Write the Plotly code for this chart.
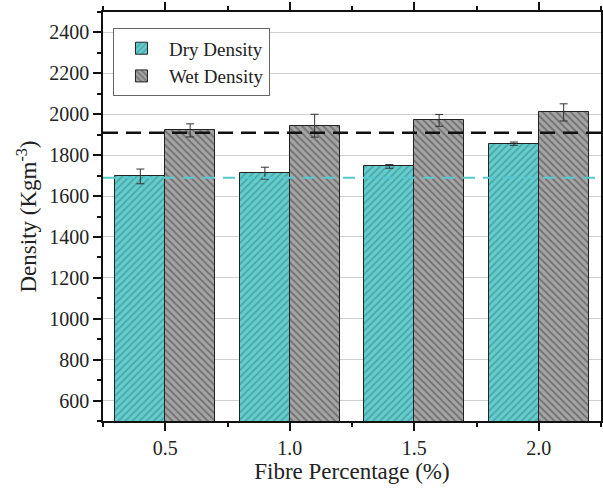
import plotly.graph_objects as go

fibre = [0.5, 1.0, 1.5, 2.0]
tick_labels = ["0.5", "1.0", "1.5", "2.0"]
dry_density = [1696, 1712, 1745, 1856]
dry_err = [36, 29, 9, 8]
wet_density = [1921, 1944, 1970, 2009]
wet_err = [32, 56, 29, 42]
wet_ref = 1910
dry_ref = 1690

FONT = "Liberation Serif"

fig = go.Figure()
fig.add_trace(go.Bar(
    x=fibre, y=dry_density, name="Dry Density",
    offset=-0.2, width=0.2,
    marker=dict(color="#66cccc", line=dict(color="#222222", width=1),
                pattern=dict(shape="/", fgcolor="#2a8585", size=5, solidity=0.35)),
    error_y=dict(type="data", array=dry_err, color="#333333", thickness=1, width=4),
))
fig.add_trace(go.Bar(
    x=fibre, y=wet_density, name="Wet Density",
    offset=0, width=0.2,
    marker=dict(color="#a5a5a5", line=dict(color="#222222", width=1),
                pattern=dict(shape="\\", fgcolor="#404040", size=5, solidity=0.38)),
    error_y=dict(type="data", array=wet_err, color="#333333", thickness=1, width=4),
))
fig.add_hline(y=wet_ref, line=dict(color="#111111", width=2.5, dash="15px,8px"))
fig.add_hline(y=dry_ref, line=dict(color="#55c8d0", width=2, dash="12px,8px"))

fig.update_layout(
    width=603, height=493,
    margin=dict(l=103, r=2, t=12, b=72),
    paper_bgcolor="white", plot_bgcolor="white",
    font=dict(family=FONT, size=20, color="#222222"),
    showlegend=True,
    legend=dict(x=0.02, y=0.96, xanchor="left", yanchor="top",
                bgcolor="white", bordercolor="#666666", borderwidth=1,
                font=dict(family=FONT, size=19), tracegroupgap=0,
                itemwidth=45),
    bargap=0,
)
fig.update_xaxes(
    range=[0.25, 2.25], tickvals=fibre, ticktext=tick_labels, automargin=False,
    showline=True, linecolor="#111111", linewidth=1.5, mirror="ticks",
    ticks="outside", ticklen=8, tickwidth=1.5, tickcolor="#111111",
    minor=dict(dtick=0.25, tick0=0.25, ticks="outside", ticklen=4, tickcolor="#111111"),
    showgrid=False, zeroline=False,
    title=dict(text="Fibre Percentage (%)", font=dict(family=FONT, size=23), standoff=4),
    tickfont=dict(family=FONT, size=20),
)
fig.update_yaxes(
    range=[500, 2500], tick0=600, dtick=200, automargin=False,
    showline=True, linecolor="#111111", linewidth=1.5, mirror="ticks",
    ticks="outside", ticklen=8, tickwidth=1.5, tickcolor="#111111",
    minor=dict(dtick=100, tick0=500, ticks="outside", ticklen=4, tickcolor="#111111"),
    showgrid=True, gridcolor="#d0d0d0", gridwidth=1, zeroline=False,
    title=dict(text="Density (Kgm<sup>-3</sup>)", font=dict(family=FONT, size=23), standoff=6),
    tickfont=dict(family=FONT, size=20),
)
fig.write_html("out.html", config={"displayModeBar": False},
               post_script="document.body.style.margin='0';document.body.style.overflow='hidden';")
